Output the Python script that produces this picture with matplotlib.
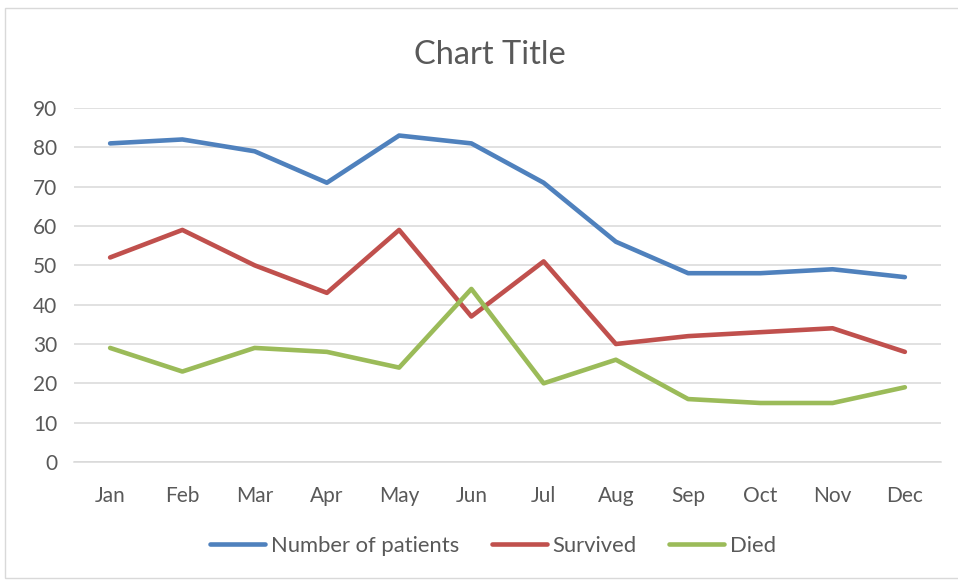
import matplotlib
matplotlib.use("Agg")
import matplotlib.pyplot as plt
from matplotlib.patches import Rectangle

months = ["Jan", "Feb", "Mar", "Apr", "May", "Jun", "Jul", "Aug", "Sep", "Oct", "Nov", "Dec"]
patients = [81, 82, 79, 71, 83, 81, 71, 56, 48, 48, 49, 47]
survived = [52, 59, 50, 43, 59, 37, 51, 30, 32, 33, 34, 28]
died = [29, 23, 29, 28, 24, 44, 20, 26, 16, 15, 15, 19]
yticks = list(range(0, 100, 10))

plt.rcParams['font.family'] = ['Lato', 'DejaVu Sans']
txt = "#595959"

fig = plt.figure(figsize=(9.58, 5.8), dpi=100)
fig.patches.append(Rectangle((5/958, 2/580), 1.2, 570/580, transform=fig.transFigure,
                             fill=False, edgecolor="#d9d9d9", linewidth=1.0))
ax = fig.add_axes([74/958, 1-462/580, (941-74)/958, (462-108)/580])

x = list(range(len(months)))
series = [(patients, "Number of patients", "#4f81bd"),
          (survived, "Survived", "#c0504d"),
          (died, "Died", "#9bbb59")]
for vals, lab, col in series:
    ax.plot(x, vals, color=col, lw=3.3, label=lab, solid_capstyle="round", solid_joinstyle="round")

ax.set_xlim(-0.5, 11.5)
ax.set_ylim(0, 90)
ax.set_yticks(yticks)
ax.set_xticks(x)
ax.set_xticklabels(months)
ax.yaxis.grid(True, color="#d9d9d9", lw=1.1)
ax.set_axisbelow(True)
for s in ["top", "right", "left"]:
    ax.spines[s].set_visible(False)
ax.spines["bottom"].set_color("#d9d9d9")
ax.spines["bottom"].set_linewidth(1.1)
ax.tick_params(length=0, colors=txt, labelsize=15)
ax.tick_params(axis="x", pad=17)
ax.tick_params(axis="y", pad=12)

fig.text(490/958, 1-55/580, "Chart Title", ha="center", va="center", fontsize=23.5, color=txt)
leg = fig.legend(loc="center", bbox_to_anchor=(493/958, 1-546/580), ncol=3, frameon=False,
                 fontsize=15.8, handlelength=2.5, handletextpad=0.25, columnspacing=1.5)
for t in leg.get_texts():
    t.set_color(txt)

fig.savefig("out.png", dpi=100)
